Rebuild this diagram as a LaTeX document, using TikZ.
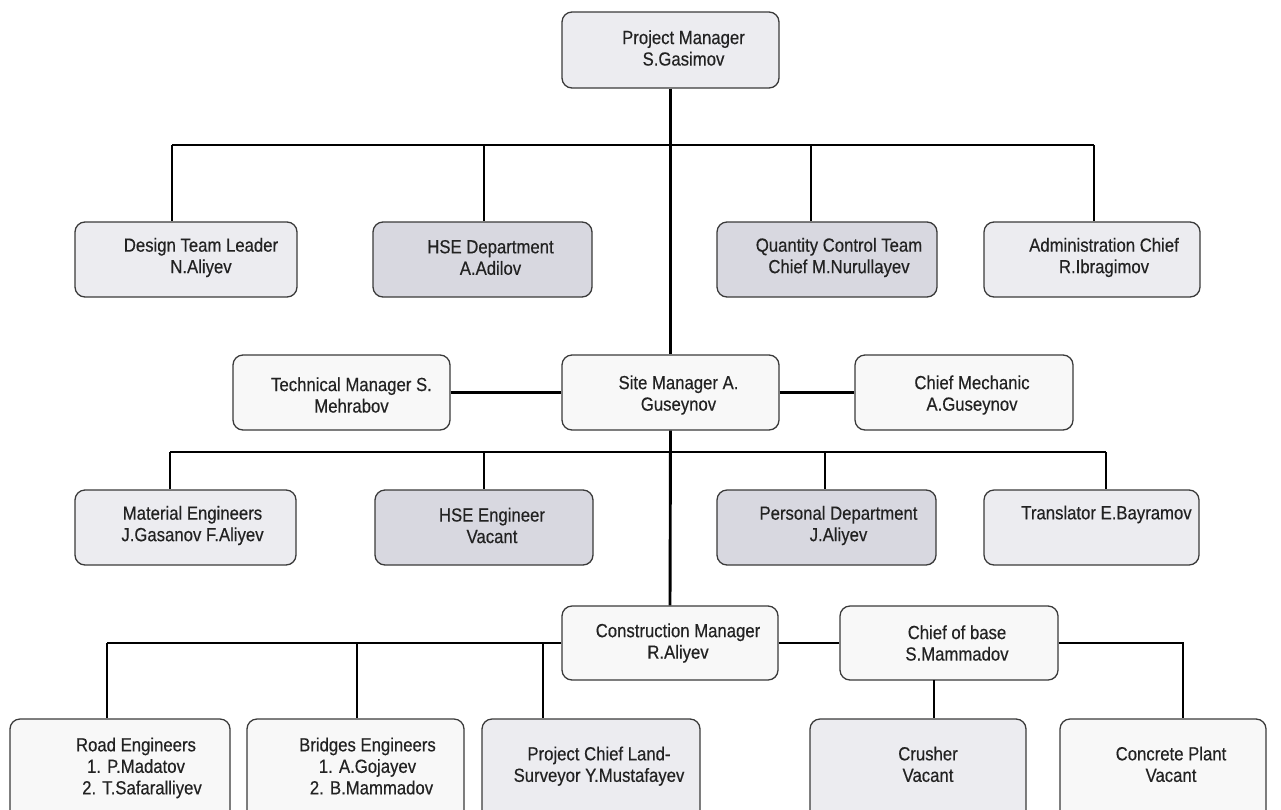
\documentclass[tikz,border=0pt]{standalone}
\usepackage{fontspec}
\setmainfont{Liberation Sans}[FakeStretch=0.88,FakeBold=0.4]
\begin{document}
\definecolor{edgec}{HTML}{3A3A3A}
\definecolor{textc}{HTML}{222222}
\definecolor{filllight}{HTML}{ECECF0}
\definecolor{filldark}{HTML}{D8D8E0}
\definecolor{fillwhite}{HTML}{F8F8F8}
\begin{tikzpicture}[x=1pt,y=-1pt,
  box/.style={draw=edgec, line width=1.3pt, rounded corners=10pt, inner sep=0pt},
  light/.style={box, fill=filllight},
  dark/.style={box, fill=filldark},
  plain/.style={box, fill=fillwhite},
  lbl/.style={font=\fontsize{19}{21.5}\selectfont, align=center, inner sep=0pt, text=textc},
  link/.style={draw=black, line width=2.9pt}]
\useasboundingbox (0,0) rectangle (1281,809);
\clip (0,0) rectangle (1281,809);

% box(x1,y1,x2,y2) as a named node
\newcommand{\orgbox}[6]{%
  \node[#1, minimum width={#4-#2}, minimum height={#5-#3}] (#6) at ({(#2+#4)/2},{(#3+#5)/2}) {};}

% ---- boxes ----
\orgbox{light}{562}{12}{779}{88}{pm}
\orgbox{light}{75}{222}{297}{297}{design}
\orgbox{dark}{373}{222}{592}{297}{hsed}
\orgbox{dark}{717}{222}{937}{297}{qc}
\orgbox{light}{984}{222}{1200}{297}{admin}
\orgbox{plain}{233}{355}{450}{430}{tm}
\orgbox{plain}{562}{355}{779}{430}{sm}
\orgbox{plain}{855}{355}{1073}{430}{mech}
\orgbox{light}{75}{490}{296}{565}{mat}
\orgbox{dark}{375}{490}{593}{565}{hsee}
\orgbox{dark}{717}{490}{936}{565}{pers}
\orgbox{light}{984}{490}{1199}{565}{trans}
\orgbox{plain}{562}{606}{778}{680}{cm}
\orgbox{plain}{840}{606}{1058}{680}{cob}
\orgbox{plain}{10}{719}{230}{830}{road}
\orgbox{plain}{247}{719}{464}{830}{bridge}
\orgbox{light}{482}{719}{700}{830}{survey}
\orgbox{light}{810}{719}{1026}{830}{crush}
\orgbox{plain}{1060}{719}{1266}{830}{concrete}

% ---- labels (shifts are in page units: positive yshift moves up) ----
\node[lbl] (pm-t) at ([xshift=13pt,yshift=2pt]pm.center) {Project Manager\\S.Gasimov};
\node[lbl] (design-t) at ([xshift=15pt,yshift=2pt]design.center) {Design Team Leader\\N.Aliyev};
\node[lbl] (hsed-t) at ([xshift=8pt,yshift=2pt]hsed.center) {HSE Department\\A.Adilov};
\node[lbl] (qc-t) at ([xshift=12pt,yshift=2pt]qc.center) {Quantity Control Team\\Chief M.Nurullayev};
\node[lbl] (admin-t) at ([xshift=12pt,yshift=2pt]admin.center) {Administration Chief\\R.Ibragimov};
\node[lbl] (tm-t) at ([xshift=10pt,yshift=-2.5pt]tm.center) {Technical Manager S.\\Mehrabov};
\node[lbl] (sm-t) at ([xshift=8pt,yshift=-2.5pt]sm.center) {Site Manager A.\\Guseynov};
\node[lbl] (mech-t) at ([xshift=8pt,yshift=-2.5pt]mech.center) {Chief Mechanic\\A.Guseynov};
\node[lbl] (mat-t) at ([xshift=7pt,yshift=2pt]mat.center) {Material Engineers\\J.Gasanov F.Aliyev};
\node[lbl] (hsee-t) at ([xshift=8pt,yshift=2pt]hsee.center) {HSE Engineer\\Vacant};
\node[lbl] (pers-t) at ([xshift=12pt,yshift=2pt]pers.center) {Personal Department\\J.Aliyev};
\node[lbl, below=16pt] (trans-t) at ([xshift=15pt]trans.north) {Translator E.Bayramov};
\node[lbl] (cm-t) at ([xshift=8pt,yshift=0pt]cm.center) {Construction Manager\\R.Aliyev};
\node[lbl] (cob-t) at ([xshift=8pt,yshift=0pt]cob.center) {Chief of base\\S.Mammadov};
\node[lbl, below=19pt] (road-t) at ([xshift=16pt]road.north) {Road Engineers\\1. P.Madatov\\\hspace*{12pt}2. T.Safaralliyev};
\node[lbl, below=19pt] (bridge-t) at ([xshift=12pt]bridge.north) {Bridges Engineers\\1. A.Gojayev\\\hspace*{8pt}2. B.Mammadov};
\node[lbl, below=28pt] (survey-t) at ([xshift=8pt]survey.north) {Project Chief Land-\\Surveyor Y.Mustafayev};
\node[lbl, below=28pt] (crush-t) at ([xshift=10pt]crush.north) {Crusher\\Vacant};
\node[lbl, below=28pt] (concrete-t) at ([xshift=8pt]concrete.north) {Concrete Plant\\Vacant};

% ---- bus points ----
\coordinate (t1) at (172,145);
\coordinate (t2) at (484,145);
\coordinate (t3) at (811,145);
\coordinate (t4) at (1094,145);
\coordinate (m1) at (170,452);
\coordinate (m2) at (484,452);
\coordinate (m3) at (825,452);
\coordinate (m4) at (1106,452);
\coordinate (l1) at (107,643);
\coordinate (l2) at (357,643);
\coordinate (l3) at (543,643);
\coordinate (r1) at (1183,643);
\coordinate (cobdrop) at (934,680);

% ---- connectors ----
\draw[link] (pm.south) -- (sm.north);
\draw[link] (t1) -- (t4);
\draw[link] (t1) -- (t1 |- design.north);
\draw[link] (t2) -- (t2 |- hsed.north);
\draw[link] (t3) -- (t3 |- qc.north);
\draw[link] (t4) -- (t4 |- admin.north);
\draw[link] (tm.east) -- (sm.west);
\draw[link] (sm.east) -- (mech.west);
\draw[link] (m1) -- (m4);
\draw[link] (m1) -- (m1 |- mat.north);
\draw[link] (m2) -- (m2 |- hsee.north);
\draw[link] (m3) -- (m3 |- pers.north);
\draw[link] (m4) -- (m4 |- trans.north);
\draw[link] (sm.south) -- (cm.north);
\draw[link] (cm.west) -- (l1);
\draw[link] (l1) -- (l1 |- road.north);
\draw[link] (l2) -- (l2 |- bridge.north);
\draw[link] (l3) -- (l3 |- survey.north);
\draw[link] (cm.east) -- (cob.west);
\draw[link] (cob.east) -- (r1) -- (r1 |- concrete.north);
\draw[link] (cobdrop) -- (cobdrop |- crush.north);
\end{tikzpicture}
\end{document}
